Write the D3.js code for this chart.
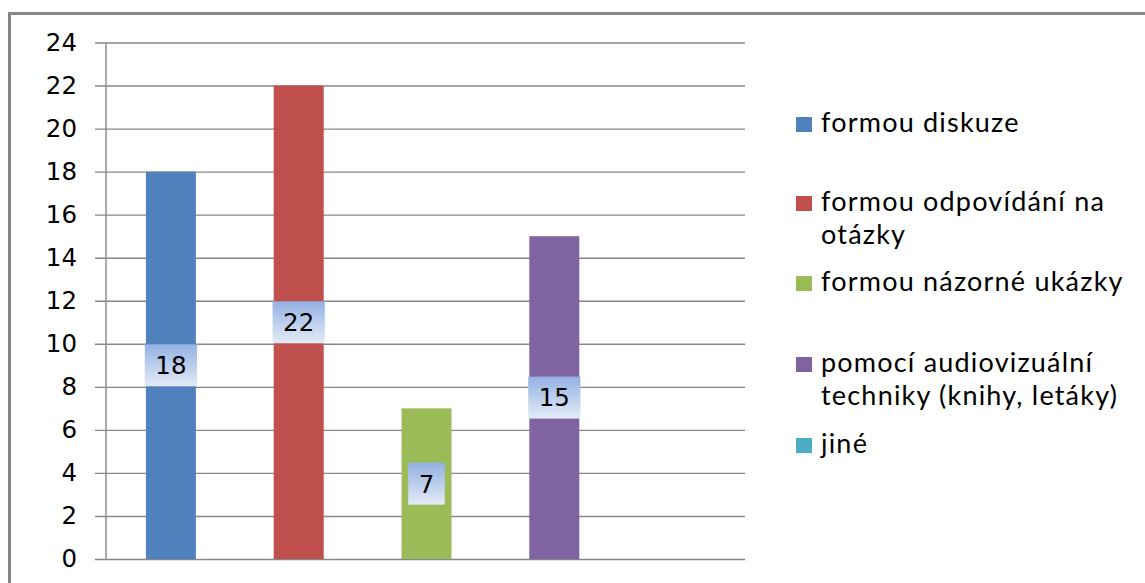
<!DOCTYPE html>
<html>
<head>
<meta charset="utf-8">
<script src="https://cdn.jsdelivr.net/npm/d3@7"></script>
<style>
  html, body { margin: 0; padding: 0; background: #fff; }
  svg { display: block; }
</style>
</head>
<body>
<svg id="chart" width="1145" height="583"></svg>
<script>
// Způsob předávání informací – počty odpovědí
const categories = [
  "formou diskuze",
  "formou odpovídání na otázky",
  "formou názorné ukázky",
  "pomocí audiovizuální techniky (knihy, letáky)",
  "jiné"
];
const values = [18, 22, 7, 15, 0];
const colors = ["#4F81BD", "#C0504D", "#9BBB59", "#8064A2", "#4BACC6"];
const legendLines = [
  ["formou diskuze"],
  ["formou odpovídání na", "otázky"],
  ["formou názorné ukázky"],
  ["pomocí audiovizuální", "techniky (knihy, letáky)"],
  ["jiné"]
];
const yTicks = [0, 2, 4, 6, 8, 10, 12, 14, 16, 18, 20, 22, 24];

const svg = d3.select("#chart");
const plot = { left: 106, right: 745, top: 42.5, bottom: 559 };

// gradient fill used behind the value labels
const defs = svg.append("defs");
const grad = defs.append("linearGradient")
  .attr("id", "labelFill").attr("x1", 0).attr("y1", 0).attr("x2", 0).attr("y2", 1);
grad.append("stop").attr("offset", "0%").attr("stop-color", "#93b1e3");
grad.append("stop").attr("offset", "100%").attr("stop-color", "#e4ebf7");

// chart frame
svg.append("path")
  .attr("d", "M9.5,590 V13.5 H1150")
  .attr("fill", "none").attr("stroke", "#868686").attr("stroke-width", 3);

const x = d3.scaleBand().domain(categories).range([plot.left, plot.right]).paddingInner(0).paddingOuter(0);
const barW = 50;
const y = d3.scaleLinear().domain([0, 24]).range([plot.bottom, plot.top]);

// horizontal gridlines with tick labels
const yAxis = d3.axisLeft(y)
  .tickValues(yTicks)
  .tickSize(-(plot.right - plot.left + 11))
  .tickPadding(18)
  .tickFormat(d3.format("d"));

const gy = svg.append("g")
  .attr("transform", `translate(${plot.left - 11},0)`)
  .call(yAxis);
gy.select(".domain").remove();
gy.selectAll(".tick line")
  .attr("stroke", "#878787").attr("stroke-width", 1.4);
gy.selectAll(".tick text")
  .attr("fill", "#000")
  .style("font-family", "'DejaVu Sans', Verdana, sans-serif")
  .style("font-size", "24.5px");

// vertical value axis line
svg.append("line")
  .attr("x1", plot.left).attr("x2", plot.left)
  .attr("y1", y(24)).attr("y2", y(0))
  .attr("stroke", "#878787").attr("stroke-width", 1.4);

// bars
svg.append("g").selectAll("rect")
  .data(categories)
  .join("rect")
  .attr("x", (d) => x(d) + x.bandwidth() / 2 - barW / 2 + 1)
  .attr("width", barW)
  .attr("y", (d, i) => y(values[i]))
  .attr("height", (d, i) => y(0) - y(values[i]))
  .attr("fill", (d, i) => colors[i]);

// value labels in the middle of each bar
const labels = svg.append("g").selectAll("g")
  .data(categories.filter((d, i) => values[i] > 0))
  .join("g")
  .attr("transform", (d) => {
    const v = values[categories.indexOf(d)];
    return `translate(${x(d) + x.bandwidth() / 2 + 1},${y(v / 2)})`;
  });
labels.each(function (d) {
  const g = d3.select(this);
  const v = values[categories.indexOf(d)];
  const t = g.append("text")
    .attr("text-anchor", "middle")
    .attr("dy", "0.36em")
    .attr("fill", "#000")
    .style("font-family", "'DejaVu Sans', Verdana, sans-serif")
    .style("font-size", "24.5px")
    .text(v);
  const w = t.node().getComputedTextLength() + 21;
  g.insert("rect", "text")
    .attr("x", -w / 2).attr("y", -21)
    .attr("width", w).attr("height", 42)
    .attr("fill", "url(#labelFill)");
});

// legend
const legendBaselines = [132, 211, 291, 372, 453];
const lg = svg.append("g");
legendLines.forEach((lines, i) => {
  const b = legendBaselines[i];
  lg.append("rect")
    .attr("x", 796).attr("y", b - 15)
    .attr("width", 16).attr("height", 15)
    .attr("fill", colors[i]);
  lines.forEach((ln, j) => {
    lg.append("text")
      .attr("x", 821).attr("y", b + j * 33)
      .attr("fill", "#000")
      .style("font-family", "Lato, 'Open Sans', sans-serif")
      .style("font-size", "27px")
      .style("letter-spacing", "1.2px")
      .text(ln);
  });
});
</script>
</body>
</html>
